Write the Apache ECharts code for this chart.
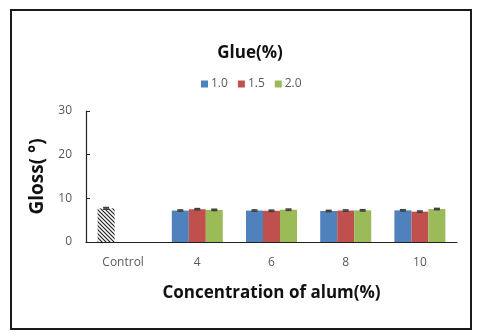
<!DOCTYPE html>
<html><head><meta charset="utf-8">
<script src="https://cdn.jsdelivr.net/npm/echarts@6/dist/echarts.min.js"></script>
<style>html,body{margin:0;padding:0;background:#fff}#c{width:479px;height:335px}</style>
</head><body><div id="c"></div>
<script>
const categories = ['Control', '4', '6', '8', '10'];
const seriesNames = ['1.0', '1.5', '2.0'];
const glue10 = [7.7, 7.2, 7.2, 7.1, 7.25];
const glue15 = [null, 7.5, 7.15, 7.2, 6.95];
const glue20 = [null, 7.35, 7.4, 7.25, 7.55];
const err10 = [0.2, 0.15, 0.15, 0.15, 0.15];
const err15 = [null, 0.15, 0.15, 0.15, 0.15];
const err20 = [null, 0.15, 0.15, 0.15, 0.15];
const yTicks = [0, 10, 20, 30];

const colors = ['#4F81BD', '#C0504D', '#9BBB59'];
const values = [glue10, glue15, glue20];
const errs = [err10, err15, err20];

// hatch pattern for control
const pc = document.createElement('canvas');
pc.width = 4; pc.height = 4;
const g = pc.getContext('2d');
g.fillStyle = '#fff'; g.fillRect(0,0,4,4);
g.strokeStyle = '#222'; g.lineWidth = 1.2;
g.beginPath(); g.moveTo(-1,-1); g.lineTo(5,5); g.moveTo(-1,3); g.lineTo(1,5); g.moveTo(3,-1); g.lineTo(5,1); g.stroke();

const BW = 17;
const chart = echarts.init(document.getElementById('c'), null, {renderer:'canvas'});
const series = [];
values.forEach((vals, i) => {
  series.push({
    name: seriesNames[i], type: 'bar', barWidth: BW, barGap: '0%',
    itemStyle: {color: colors[i]},
    data: vals.map((v, k) => (k === 0 && i === 0) ? {value: v, itemStyle: {color: {image: pc, repeat: 'repeat'}}} : v),
    z: 2
  });
  series.push({
    type: 'custom', name: seriesNames[i] + 'err', z: 5,
    data: vals.map((v, k) => v == null ? [k, null, null] : [k, v - errs[i][k], v + errs[i][k]]),
    renderItem: function (params, api) {
      if (api.value(1) == null || isNaN(api.value(1))) return;
      const c = api.value(0);
      const lo = api.coord([c, api.value(1)]);
      const hi = api.coord([c, api.value(2)]);
      const x = lo[0] + (i - 1) * BW;
      const hw = 3;
      const st = {stroke: '#404040', lineWidth: 1.5};
      return {type: 'group', children: [
        {type: 'line', shape: {x1: x, y1: lo[1], x2: x, y2: hi[1]}, style: st},
        {type: 'line', shape: {x1: x - hw, y1: hi[1], x2: x + hw, y2: hi[1]}, style: st},
        {type: 'line', shape: {x1: x - hw, y1: lo[1], x2: x + hw, y2: lo[1]}, style: st}
      ]};
    }
  });
});

chart.setOption({
  animation: false,
  title: {text: 'Glue(%)', left: 245, top: 40, textAlign: 'center',
    textStyle: {fontFamily: 'Open Sans', fontWeight: 'bold', fontSize: 17, color: '#111'}},
  legend: {data: seriesNames, top: 73, left: 196, icon: 'rect', itemWidth: 7, itemHeight: 7, itemGap: 10,
    textStyle: {fontFamily: 'Open Sans', fontSize: 12, color: '#595959', padding: [0,0,0,-2]}},
  grid: {left: 86, top: 111, width: 371, height: 131, containLabel: false},
  xAxis: {type: 'category', data: categories,
    name: 'Concentration of alum(%)', nameLocation: 'middle', nameGap: 43,
    nameTextStyle: {fontFamily: 'Open Sans', fontWeight: 'bold', fontSize: 17, color: '#111'},
    axisLine: {lineStyle: {color: '#222', width: 1.2}},
    axisTick: {inside: true, length: 4, lineStyle: {color: '#222'}},
    axisLabel: {margin: 15, fontFamily: 'Open Sans', fontSize: 12, color: '#595959'}},
  yAxis: {type: 'value', min: 0, max: 30, interval: 10,
    name: 'Gloss( °)', nameLocation: 'middle', nameGap: 26, nameRotate: 90,
    nameTextStyle: {fontFamily: 'Open Sans', fontWeight: 'bold', fontSize: 19, color: '#111'},
    axisLine: {show: true, lineStyle: {color: '#222', width: 1.2}},
    axisTick: {show: true, inside: true, length: 4, lineStyle: {color: '#222'}},
    splitLine: {show: false},
    axisLabel: {margin: 14, fontFamily: 'Open Sans', fontSize: 12, color: '#595959',
      formatter: v => yTicks.includes(v) ? String(v) : ''}},
  graphic: [{type: 'rect', shape: {x: 11, y: 10, width: 460, height: 319},
    style: {fill: 'none', stroke: '#1a1a1a', lineWidth: 2}, silent: true}],
  series: series
});
</script></body></html>
